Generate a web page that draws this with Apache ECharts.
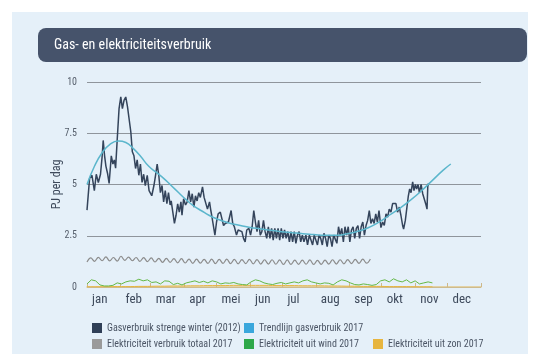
<!DOCTYPE html>
<html>
<head>
<meta charset="utf-8">
<script src="https://cdn.jsdelivr.net/npm/echarts@6/dist/echarts.min.js"></script>
<style>
  html, body { margin: 0; padding: 0; background: #ffffff; }
  #chart { width: 543px; height: 354px; }
</style>
</head>
<body>
<div id="chart"></div>
<script>
// Month names and the day-of-year on which each month starts
const monthNames = ['jan', 'feb', 'mar', 'apr', 'mei', 'jun', 'jul', 'aug', 'sep', 'okt', 'nov', 'dec'];
const monthStarts = [0, 31, 59, 90, 120, 151, 181, 212, 243, 273, 304, 334, 365];
const yTicks = [0, 2.5, 5, 7.5, 10];

// Gas consumption during the severe winter of 2012: [day of year, PJ per day]
const gas2012 = [
  [0,3.75],[2.4,5.3],[4.6,5.45],[6.8,4.7],[8.6,5.5],[10.5,5.1],[12.5,5.5],[14,6.35],[15,7.15],[16.3,6.4],
  [17.5,5.9],[19,5.55],[20.5,5.05],[22.5,6.4],[24,6.0],[25.3,6.2],[26.5,5.8],[28,7.2],[29.7,8.7],[31.3,9.27],
  [32.8,8.7],[34.3,9.1],[35.9,9.27],[37.5,8.8],[39,8.8],[40.6,7.56],[42,6.6],[43.5,6.4],[45,5.78],[46.5,6.2],
  [48,5.45],[49.5,6.0],[51,5.1],[52.5,5.5],[54,4.95],[55.8,5.45],[57.5,4.7],[60,4.45],[62,4.95],[63.5,5.45],
  [65,6.0],[66.5,5.45],[68,4.6],[69.5,4.95],[71,4.15],[72.5,4.7],[74,4.07],[75.5,4.6],[77,4.0],[78,4.2],
  [79.5,3.65],[81,3.1],[82.5,3.5],[84,4.05],[85.5,3.65],[87,4.15],[88,3.5],[89.5,4.3],[91.3,4.0],[92.8,4.15],
  [94.4,4.7],[96,4.15],[97.5,4.55],[99,3.9],[100.5,4.45],[102,4.2],[103.5,4.6],[105,4.37],[107,4.88],[108.5,4.37],
  [110,4.45],[111.6,3.8],[113.5,4.15],[114.5,3.8],[115.5,3.5],[117,3.57],[118.5,2.53],[120,3.17],[121.5,3.57],[123.5,3.65],
  [125,3.65],[126.5,3.0],[128,3.1],[129.5,3.17],[131,3.17],[133.5,3.73],[135,3.1],[136.5,2.94],[138.5,2.53],[140,2.78],
  [141.5,2.86],[143.5,2.7],[145,2.37],[146.5,2.2],[148,2.78],[150,2.86],[151.5,2.53],[153,2.94],[154.5,3.73],[156,3.17],
  [157.5,2.7],[159,3.25],[160.5,2.53],[162,2.7],[163.5,3.25],[165,2.7],[166.5,2.37],[168,2.94],[169.5,2.37],[171,2.86],
  [172.5,2.29],[174,2.86],[175.5,2.37],[177,2.86],[178.5,2.29],[180,2.86],[181.5,2.37],[183,2.78],[184.5,2.37],[186,2.7],
  [187.5,2.2],[189,2.7],[190.5,2.2],[192,2.7],[193.5,2.13],[195,2.53],[196.5,2.7],[198,2.2],[199.5,2.53],[201,2.2],
  [202.8,2.53],[204.3,2.05],[206,2.53],[207.5,2.45],[209,2.05],[210.5,2.53],[212,2.45],[213.5,2.05],[215,2.53],[216.5,2.37],
  [218,2.05],[219.5,2.62],[221,2.37],[222.5,1.97],[224,2.53],[225.5,2.37],[227,1.97],[228.5,2.53],[230,2.53],[231.5,2.13],
  [233,2.94],[234.5,2.53],[236,2.86],[237.5,2.2],[239,2.94],[240.5,2.53],[242,2.94],[243.5,2.2],[245,2.78],[246.5,2.94],
  [248,2.37],[249.5,2.86],[251,3.0],[252.5,2.37],[254,2.94],[255.5,3.17],[257,2.53],[258.5,3.0],[260,3.25],[261.5,3.73],
  [263,3.1],[264.5,3.33],[266,3.1],[267.5,3.57],[269,3.17],[270.5,3.73],[272.3,2.9],[273.9,3.17],[275.4,3.0],[277,3.57],
  [278.5,3.41],[280,3.8],[281.6,3.65],[283.1,4.07],[284.7,4.0],[286.2,4.07],[287.7,3.65],[289.3,3.9],[290.8,3.5],[292.4,3.0],
  [293.3,2.83],[294.9,3.25],[296.4,3.9],[297.7,4.45],[298.9,4.78],[300.2,4.6],[301.7,5.13],[302.9,4.7],[304.2,5.0],[305.4,4.78],
  [306.7,5.0],[307.9,4.6],[309.5,5.0],[311,4.55],[312.6,4.6],[314.1,4.0],[315,3.8],[315.7,4.9],[316.3,5.05]
];

// Trend line of gas consumption 2017: [day of year, PJ per day]
const gasTrend2017 = [
  [0,5.0],[7,5.9],[14,6.55],[21,6.95],[29,7.12],[36,7.05],[43,6.75],[50,6.35],[57,5.9],[64,5.6],
  [71,5.3],[78,4.95],[85,4.6],[92,4.25],[99,3.95],[106,3.72],[113,3.5],[120,3.33],[130,3.15],[140,3.02],
  [150,2.92],[160,2.84],[170,2.77],[180,2.7],[190,2.65],[200,2.6],[210,2.56],[220,2.52],[230,2.52],[240,2.58],
  [250,2.7],[260,2.88],[270,3.15],[280,3.5],[290,3.85],[300,4.25],[310,4.7],[320,5.2],[330,5.7],[337,6.0]
];

// Total electricity consumption 2017, every half week from 1 January (weekend dip / midweek peak)
const elecStep = 3.5;
const elecTotal2017 = [
  1.22,1.42, 1.25,1.45, 1.28,1.47, 1.27,1.44, 1.26,1.50, 1.30,1.46, 1.28,1.44, 1.25,1.43, 1.24,1.42, 1.22,1.40,
  1.20,1.40, 1.20,1.38, 1.18,1.38, 1.17,1.36, 1.15,1.36, 1.16,1.35, 1.15,1.36, 1.14,1.35, 1.15,1.36, 1.14,1.35,
  1.13,1.34, 1.14,1.35, 1.13,1.34, 1.12,1.33, 1.12,1.33, 1.11,1.32, 1.10,1.32, 1.10,1.31, 1.10,1.31, 1.11,1.32,
  1.10,1.30, 1.10,1.31, 1.12,1.33, 1.12,1.33, 1.13,1.34, 1.14,1.35, 1.15,1.36, 1.16,1.37
];

// Electricity from wind 2017, every 4 days from 1 January
const windStep = 4;
const elecWind2017 = [
  0.15,0.35,0.30,0.10,0.05,0.05,0.08,0.20,0.15,0.25,0.30,0.28,0.38,0.30,0.35,0.22,0.25,0.15,0.30,0.28,
  0.12,0.18,0.10,0.20,0.25,0.30,0.22,0.28,0.20,0.30,0.25,0.15,0.20,0.18,0.22,0.15,0.12,0.10,0.25,0.35,
  0.30,0.20,0.15,0.12,0.18,0.22,0.15,0.20,0.25,0.20,0.30,0.35,0.25,0.20,0.15,0.20,0.18,0.10,0.25,0.35,
  0.30,0.20,0.12,0.10,0.15,0.12,0.08,0.12,0.30,0.35,0.25,0.40,0.30,0.25,0.35,0.20,0.30,0.15,0.20,0.25,
  0.20
];

// Electricity from solar 2017, every 8 days from 1 January
const solarStep = 8;
const elecSolar2017 = [
  0.01,0.01,0.01,0.02,0.02,0.02,0.03,0.03,0.04,0.04,0.05,0.05,0.06,0.06,0.07,0.07,0.07,0.08,0.08,0.08,
  0.08,0.08,0.07,0.07,0.07,0.06,0.06,0.06,0.05,0.05,0.04,0.04,0.03,0.03,0.03,0.02,0.02,0.02,0.01,0.01,
  0.01
];

// Roboto in its condensed width
const FONT = "Roboto, sans-serif";
const NARROW = 'condensed';

function stepped(values, step) {
  return values.map((v, i) => [i * step, v]);
}

const chart = echarts.init(document.getElementById('chart'), null, { renderer: 'canvas' });

const legendBase = {
  icon: 'rect',
  itemWidth: 10,
  itemHeight: 10,
  itemGap: 8,
  padding: 0,
  selectedMode: false,
  textStyle: { fontFamily: FONT, fontStyle: NARROW, fontSize: 10, color: '#4b5565' }
};

chart.setOption({
  animation: false,
  backgroundColor: '#ffffff',
  graphic: [
    { type: 'rect', z: -10, shape: { x: 12, y: 12, width: 516, height: 350 }, style: { fill: '#e5f0f9' } },
    { type: 'rect', z: -9, shape: { x: 38, y: 28, width: 489, height: 34, r: 8 }, style: { fill: '#46536b' } }
  ],
  title: {
    text: 'Gas- en elektriciteitsverbruik',
    left: 54,
    top: 38,
    padding: 0,
    textStyle: { fontFamily: FONT, fontStyle: NARROW, fontSize: 14, fontWeight: 'normal', color: '#ffffff' }
  },
  legend: [
    Object.assign({}, legendBase, { left: 92, top: 323, data: ['Gasverbruik strenge winter (2012)'] }),
    Object.assign({}, legendBase, { left: 244, top: 323, data: ['Trendlijn gasverbruik 2017'] }),
    Object.assign({}, legendBase, { left: 92, top: 339, data: ['Elektriciteit verbruik totaal 2017'] }),
    Object.assign({}, legendBase, { left: 244, top: 339, data: ['Elektriciteit uit wind 2017'] }),
    Object.assign({}, legendBase, { left: 373, top: 339, data: ['Elektriciteit uit zon 2017'] })
  ],
  grid: { left: 87, top: 82, width: 394, height: 205, containLabel: false },
  xAxis: {
    type: 'value',
    min: 0,
    max: 365,
    splitLine: { show: false },
    axisLine: { show: true, lineStyle: { color: '#e2c889', width: 1.5 } },
    axisTick: { show: true, inside: true, length: 4, customValues: monthStarts, lineStyle: { color: '#cdb88a' } },
    axisLabel: {
      customValues: monthStarts.slice(0, 12),
      formatter: v => monthNames[monthStarts.indexOf(v)],
      align: 'left',
      padding: [0, 0, 0, 5],
      margin: 6,
      fontFamily: FONT,
      fontStyle: NARROW,
      fontSize: 13,
      color: '#3e4a5c'
    }
  },
  yAxis: {
    type: 'value',
    min: 0,
    max: 10,
    interval: 2.5,
    name: 'PJ per dag',
    nameLocation: 'middle',
    nameGap: 24,
    nameMoveOverlap: false,
    nameTextStyle: { fontFamily: FONT, fontStyle: NARROW, fontSize: 12, color: '#3e4a5c' },
    axisLine: { show: false },
    axisTick: { show: false },
    axisLabel: {
      customValues: yTicks,
      formatter: v => String(v),
      margin: 10,
      fontFamily: FONT,
      fontStyle: NARROW,
      fontSize: 10,
      color: '#555e6b'
    },
    splitLine: { show: true, lineStyle: { color: '#8f959c', width: 1 } }
  },
  series: [
    {
      name: 'Elektriciteit uit zon 2017',
      type: 'line',
      data: stepped(elecSolar2017, solarStep),
      showSymbol: false,
      smooth: 0.3,
      itemStyle: { color: '#e7b53f' },
      lineStyle: { color: '#e7b53f', width: 1 },
      z: 2
    },
    {
      name: 'Elektriciteit uit wind 2017',
      type: 'line',
      data: stepped(elecWind2017, windStep),
      showSymbol: false,
      itemStyle: { color: '#2ea84a' },
      lineStyle: { color: '#64b845', width: 1 },
      z: 3
    },
    {
      name: 'Elektriciteit verbruik totaal 2017',
      type: 'line',
      data: stepped(elecTotal2017, elecStep),
      showSymbol: false,
      smooth: 0.4,
      itemStyle: { color: '#9a9a9a' },
      lineStyle: { color: '#8c8c8c', width: 1.2 },
      z: 3
    },
    {
      name: 'Gasverbruik strenge winter (2012)',
      type: 'line',
      data: gas2012,
      showSymbol: false,
      itemStyle: { color: '#2f3f57' },
      lineStyle: { color: '#34445b', width: 1.5 },
      z: 4
    },
    {
      name: 'Trendlijn gasverbruik 2017',
      type: 'line',
      data: gasTrend2017,
      showSymbol: false,
      smooth: true,
      itemStyle: { color: '#3aa7dc' },
      lineStyle: { color: '#5bb6cc', width: 1.5 },
      z: 5
    }
  ]
});
</script>
</body>
</html>
